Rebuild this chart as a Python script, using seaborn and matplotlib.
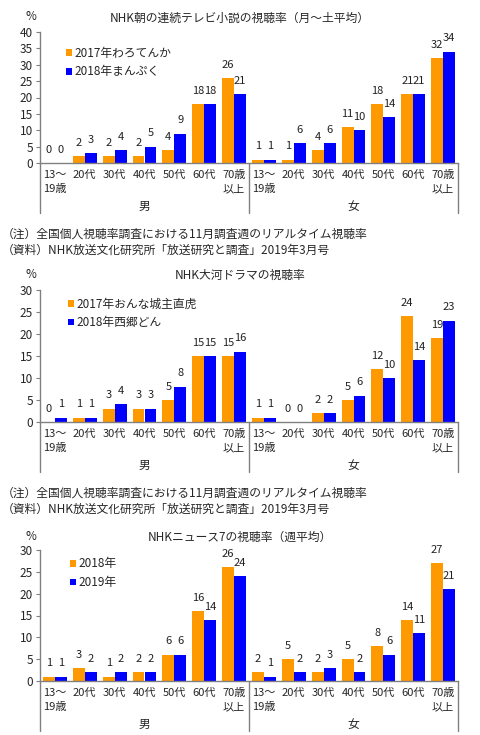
import matplotlib
matplotlib.use("Agg")
import pandas as pd
import matplotlib.pyplot as plt
import seaborn as sns

sns.set_style("white")
plt.rcParams['font.family'] = ['Noto Sans CJK JP', 'DejaVu Sans']

# data (男 13-19 .. 70+, then 女 13-19 .. 70+)
ages = ["13～\n19歳", "20代", "30代", "40代", "50代", "60代", "70歳\n以上"]
sexes = ["男", "女"]

warotenka = [0, 2, 2, 2, 4, 18, 26, 1, 1, 4, 11, 18, 21, 32]
manpuku = [0, 3, 4, 5, 9, 18, 21, 1, 6, 6, 10, 14, 21, 34]
naotora = [0, 1, 3, 3, 5, 15, 15, 1, 0, 2, 5, 12, 24, 19]
segodon = [1, 1, 4, 3, 8, 15, 16, 1, 0, 2, 6, 10, 14, 23]
news_2018 = [1, 3, 1, 2, 6, 16, 26, 2, 5, 2, 5, 8, 14, 27]
news_2019 = [1, 2, 2, 2, 6, 14, 24, 1, 2, 3, 2, 6, 11, 21]

titles = ["NHK朝の連続テレビ小説の視聴率（月～土平均）",
          "NHK大河ドラマの視聴率",
          "NHKニュース7の視聴率（週平均）"]
series_names = [("2017年わろてんか", "2018年まんぷく"),
                ("2017年おんな城主直虎", "2018年西郷どん"),
                ("2018年", "2019年")]
note1 = "（注）全国個人視聴率調査における11月調査週のリアルタイム視聴率"
note2 = "（資料）NHK放送文化研究所「放送研究と調査」2019年3月号"

ORANGE = "#FF9900"
BLUE = "#0000FF"
GRAY = "#808080"
W, H = 480, 735

fig = plt.figure(figsize=(4.8, 7.35), dpi=100)


def px(x, y):
    return x / W, 1 - y / H


def panel(rect, v1, v2, names, ymax, title, title_y, leg):
    x0, y0, x1, y1 = rect
    ax = fig.add_axes([x0 / W, 1 - y1 / H, (x1 - x0) / W, (y1 - y0) / H])
    cats = [f"{s}{a}" for s in sexes for a in ages]
    df = pd.DataFrame({"cat": cats * 2,
                       "series": [names[0]] * 14 + [names[1]] * 14,
                       "value": v1 + v2})
    sns.barplot(data=df, x="cat", y="value", hue="series", ax=ax,
                palette=[ORANGE, BLUE], saturation=1, width=0.8,
                linewidth=0, errorbar=None)
    for c in ax.containers:
        ax.bar_label(c, fmt="%d", padding=6, fontsize=8, color="#222222")
    ax.set_ylim(0, ymax)
    ax.set_yticks(range(0, ymax + 1, 5))
    ax.set_xlim(-0.5, 13.5)
    ax.set_xticks(range(14))
    ax.set_xticklabels(ages * 2, fontsize=8, linespacing=1.55)
    ax.tick_params(axis="x", length=0, pad=5)
    ax.tick_params(axis="y", length=3, width=0.8, color=GRAY, labelsize=8.5,
                   pad=2, left=True)
    ax.set_xlabel("")
    ax.set_ylabel("")
    for s in ["top", "right"]:
        ax.spines[s].set_visible(False)
    for s in ["left", "bottom"]:
        ax.spines[s].set_color(GRAY)
        ax.spines[s].set_linewidth(1)
    ext = 50 / (y1 - y0)
    for xx in [0, 0.5, 1]:
        ax.plot([xx, xx], [0, -ext], transform=ax.transAxes, color=GRAY,
                lw=1, clip_on=False)
    for xx, s in zip([0.25, 0.75], sexes):
        ax.text(xx, -43 / (y1 - y0), s, transform=ax.transAxes,
                ha="center", va="center", fontsize=8.5)
    h, l = ax.get_legend_handles_labels()
    ax.legend(h, l, loc="upper left", bbox_to_anchor=leg, frameon=False,
              fontsize=8.5, handlelength=0.5, handleheight=0.5,
              handletextpad=0.25, labelspacing=0.5, borderaxespad=0)
    fig.text(*px(240, title_y), title, ha="center", va="center", fontsize=8.5)
    fig.text(*px(31, title_y - 1), "%", ha="center", va="center", fontsize=8.5)
    return ax


panel((40, 32, 458, 163), warotenka, manpuku, series_names[0], 40,
      titles[0], 18, (0.05, 0.925))
fig.text(*px(2, 234), note1, ha="left", va="center", fontsize=8.5)
fig.text(*px(2, 250), note2, ha="left", va="center", fontsize=8.5)

panel((40, 290, 458, 422), naotora, segodon, series_names[1], 30,
      titles[1], 275, (0.055, 0.98))
fig.text(*px(2, 493), note1, ha="left", va="center", fontsize=8.5)
fig.text(*px(2, 509), note2, ha="left", va="center", fontsize=8.5)

panel((40, 550, 458, 681), news_2018, news_2019, series_names[2], 30,
      titles[2], 537, (0.06, 0.98))

fig.savefig("out.png", dpi=100, facecolor="white")
